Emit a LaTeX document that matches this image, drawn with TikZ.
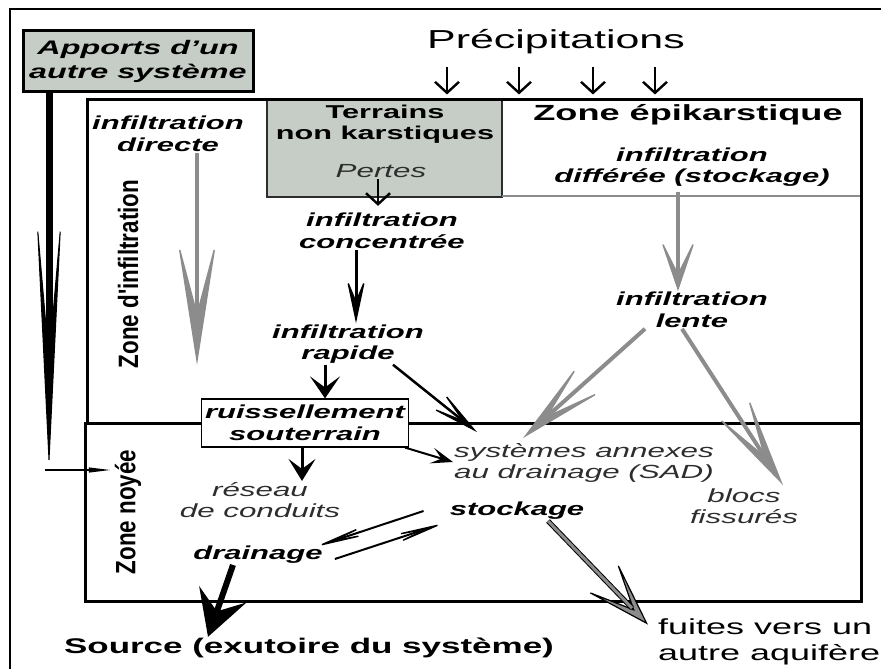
\documentclass[tikz,border=0pt]{standalone}
\usepackage{fontspec}
\setmainfont{Liberation Sans}[FakeStretch=1.65]
\newfontfamily\narrowfont{Liberation Sans}[FakeStretch=0.8]
\usetikzlibrary{arrows.meta,calc}
\definecolor{boxgray}{RGB}{198,205,198}
\definecolor{flowgray}{RGB}{140,140,140}
\definecolor{softblack}{RGB}{45,45,45}
\tikzset{
  >=Stealth,
  barb/.style n args={3}{-{Stealth[length=#1pt,width=#2pt,inset=#3pt,line width=1.4pt]}},
}
\tikzstyle{txtbi}=[font=\fontsize{18.8}{21.5}\selectfont\bfseries\itshape,align=center,inner sep=1pt]
\tikzstyle{txtnote}=[font=\fontsize{19}{21.5}\selectfont\itshape,text=softblack,align=center,inner sep=1pt]
\tikzstyle{txttitle}=[font=\fontsize{18.6}{21}\selectfont\bfseries,align=center,inner sep=1pt]
\tikzstyle{zonelbl}=[font=\narrowfont\fontsize{28}{30}\selectfont\bfseries,rotate=90,inner sep=1pt]
\tikzstyle{zoneframe}=[line width=3pt]
\tikzstyle{rain}=[line width=2.4pt,-{Straight Barb[length=11pt,width=24pt]}]
\tikzstyle{grayflow}=[draw=flowgray,fill=flowgray,line width=4pt]

\begin{document}
\begin{tikzpicture}[x=1pt,y=-1pt]
  \useasboundingbox (0,0) rectangle (881,669);
  % cadres
  \draw[line width=1.5pt] (10,669) -- (10,9) -- (881,9);
  \fill[boxgray] (267,100) rectangle (502,197);
  \draw[line width=1.5pt,softblack] (267,100) -- (267,197) -- (502,197) -- (502,100);
  \draw[line width=1.5pt,flowgray] (502,196) -- (860,196);
  \draw[zoneframe] (87,99) rectangle (861,423);
  \draw[zoneframe] (85,423) rectangle (861,601);

  % textes
  \node[txtbi,font=\fontsize{19.6}{24}\selectfont\bfseries\itshape,draw,line width=3pt,fill=boxgray,
        minimum width=230pt,minimum height=60pt] (apports) at (138,61) {Apports d'un\\autre système};
  \node[font=\fontsize{26}{30}\selectfont,inner sep=1pt] (precip) at (556,42) {Précipitations};
  \node[txttitle] (terrains) at (385,124) {Terrains\\non karstiques};
  \node[txtnote] (pertes) at (381,171) {Pertes};
  \node[txttitle,font=\fontsize{21.9}{24}\selectfont\bfseries] (epikarst) at (688,115) {Zone épikarstique};
  \node[txtbi] (differee) at (692,167) {infiltration\\différée (stockage)};
  \node[txtbi] (directe) at (168,134) {infiltration\\directe};
  \node[zonelbl] (zoneinf) at (128,274) {Zone d'infiltration};
  \node[txtbi] (concentree) at (382,231) {infiltration\\concentrée};
  \node[txtbi] (rapide) at (348,344) {infiltration\\rapide};
  \node[txtbi] (lente) at (692,310) {infiltration\\lente};
  \node[txtbi,draw,fill=white,line width=1.2pt,minimum width=207pt,minimum height=48pt] (ruiss) at (305,423) {ruissellement\\souterrain};
  \node[zonelbl] (zonenoy) at (128,512) {Zone noyée};
  \node[txtnote,anchor=west,align=left] (sad) at (453,463) {systèmes annexes\\au drainage (SAD)};
  \node[txtnote] (reseau) at (260,500) {réseau\\de conduits};
  \node[txtnote] (blocs) at (744,506) {blocs\\fissurés};
  \node[txtbi] (stockage) at (517,511) {stockage};
  \node[txtbi] (drainage) at (258,555) {drainage};
  \node[txttitle,font=\fontsize{21.2}{24}\selectfont\bfseries] (source) at (309,648) {Source (exutoire du système)};
  \node[font=\fontsize{21.8}{26}\selectfont,align=left,anchor=west,inner sep=1pt] (fuites) at (657,642) {fuites vers un\\autre aquifère};

  % fleches
  \foreach \dx in {-109,-37,37,99}
    \draw[rain] ([xshift=\dx pt,yshift=-12pt]precip.south) -- ++(0,27);
  \draw[rain] ([xshift=-3pt]pertes.south) -- ++(0,27);

  \coordinate (apportstip) at (49,470);
  \coordinate (noyeein) at (110,470);
  \draw[line width=7pt,-{Stealth[length=265pt,width=26pt,inset=150pt,line width=1pt]}]
    (apports.south -| apportstip) -- (apportstip);
  \draw[line width=2pt,barb={40}{10}{25}] ([xshift=-4pt]apportstip) -- (noyeein);

  \coordinate (directetip) at (197,365);
  \draw[grayflow,barb={128}{40}{75}] (directe.south -| directetip) -- (directetip);
  \draw[grayflow,barb={56}{38}{38}] ([xshift=-14pt,yshift=-4pt]differee.south) -- ([xshift=-14pt]lente.north);
  \draw[grayflow,barb={96}{38}{62}] ([xshift=-47pt]lente.south) -- ([xshift=70pt,yshift=4pt]sad.north west);
  \draw[grayflow,barb={100}{40}{64}] ([xshift=-10pt]lente.south) -- ([xshift=39pt,yshift=2pt]blocs.north);

  \draw[line width=3pt,barb={47}{20}{24}] ([xshift=-26pt]concentree.south) -- ([xshift=8pt]rapide.north);
  \draw[line width=3pt,barb={22}{30}{11}] ([xshift=-23pt]rapide.south) -- ([xshift=20pt]ruiss.north);
  \draw[line width=2.5pt,barb={60}{24}{40}] ([xshift=45pt]rapide.south) -- ([xshift=24pt,yshift=10pt]sad.north west);
  \draw[line width=2pt,barb={22}{16}{10}] ([xshift=-4pt]ruiss.south east) -- ([yshift=1pt]sad.west);
  \draw[line width=3pt,barb={22}{27}{10}] ([xshift=-3pt]ruiss.south) -- ([xshift=42pt]reseau.north);

  \draw[line width=2pt,barb={75}{14}{50}] ([xshift=-25pt]stockage.west) -- ([xshift=-9pt,yshift=8pt]drainage.east);
  \draw[line width=2pt,barb={75}{14}{50}] ([xshift=11pt,yshift=-4pt]drainage.east) -- ([xshift=-4pt,yshift=-12pt]stockage.west);
  \draw[line width=6pt,-{Stealth[length=45pt,width=50pt,inset=18pt,line width=2pt]}]
    ([xshift=-25pt]drainage.south) -- ([xshift=-101pt]source.north);

  \coordinate (stockout) at ([xshift=31pt]stockage.south);
  \coordinate (fuitestip) at ([xshift=-9pt,yshift=-7pt]fuites.north west);
  \draw[line width=1pt,-{Stealth[length=72pt,width=46pt,inset=50pt,fill=flowgray,line width=1.2pt]}] (stockout) -- (fuitestip);
  \draw[line width=5pt] (stockout) -- ($(stockout)!0.84!(fuitestip)$);
  \draw[line width=3pt,flowgray] (stockout) -- ($(stockout)!0.84!(fuitestip)$);
\end{tikzpicture}
\end{document}
